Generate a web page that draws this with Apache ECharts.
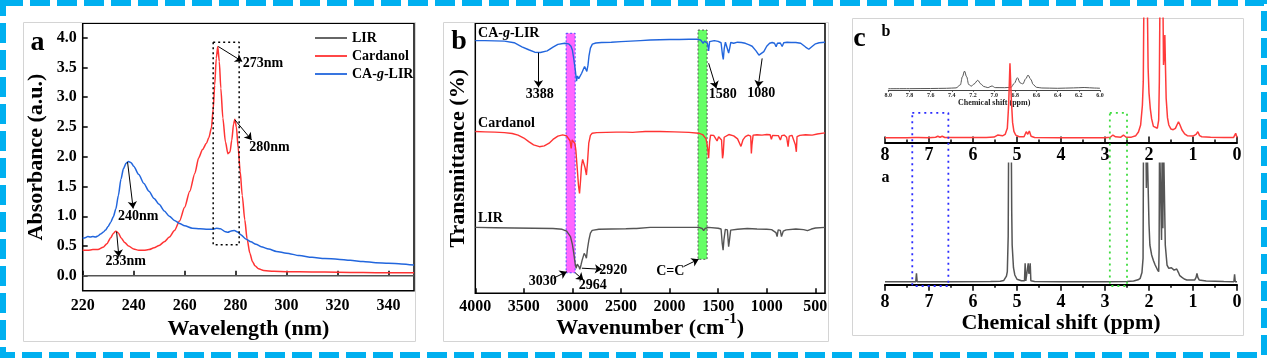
<!DOCTYPE html>
<html><head><meta charset="utf-8">
<script src="https://cdn.jsdelivr.net/npm/echarts@6/dist/echarts.min.js"></script>
<style>html,body{margin:0;padding:0;background:#fff}#c{width:1267px;height:358px}</style>
</head><body><div id="c"></div>
<script>
// ---------- Panel a : UV-vis ----------
const uvXTicks = [220,240,260,280,300,320,340];
const uvYTicks = [0,0.5,1,1.5,2,2.5,3,3.5,4];
const uvLIR = [[220,0],[260,0],[300,0],[350,0]];
const uvCardanol = [[220,0.43],[222,0.43],[224,0.44],[226,0.44],[228,0.48],[229.5,0.54],[231,0.64],[232,0.71],[233,0.75],[234,0.72],[235,0.64],[236.5,0.56],[238,0.50],[240,0.45],[242,0.43],[244,0.43],[246,0.44],[248,0.47],[250,0.51],[252,0.57],[254,0.65],[256,0.76],[258,0.92],[260,1.15],[262,1.42],[264,1.72],[265.5,1.98],[267,2.12],[268.5,2.22],[269.5,2.32],[270.5,2.48],[271.2,2.8],[271.8,3.2],[272.4,3.65],[273,3.85],[273.6,3.6],[274.2,3.15],[275,2.65],[276,2.25],[277,2.05],[277.8,2.08],[278.5,2.28],[279.2,2.55],[279.7,2.63],[280.3,2.5],[281,2.15],[281.8,1.75],[282.6,1.35],[283.6,0.94],[284.5,0.62],[285.6,0.38],[286.6,0.24],[287.6,0.17],[289,0.12],[291,0.09],[295,0.075],[300,0.07],[310,0.065],[320,0.06],[330,0.055],[340,0.05],[350,0.05]];
const uvCAgLIR = [[220,0.63],[221,0.64],[222,0.66],[223,0.65],[224,0.66],[225,0.65],[226,0.67],[227,0.70],[228,0.73],[229,0.77],[230,0.83],[231,0.90],[232,0.99],[233,1.12],[234,1.35],[235,1.62],[236,1.80],[237,1.89],[238,1.92],[239,1.90],[240,1.84],[242,1.70],[244,1.55],[246,1.42],[248,1.30],[250,1.20],[252,1.09],[254,1.00],[256,0.93],[258,0.88],[260,0.84],[263,0.80],[266,0.79],[269,0.78],[271,0.78],[272.5,0.80],[274,0.79],[276,0.74],[277,0.73],[278,0.75],[279.5,0.76],[281,0.73],[282,0.69],[284,0.62],[286,0.57],[288,0.53],[290,0.49],[293,0.45],[296,0.41],[300,0.38],[305,0.34],[310,0.31],[315,0.29],[320,0.28],[325,0.26],[330,0.24],[335,0.22],[340,0.21],[345,0.20],[350,0.18]];
const uvBox = [[271.2,3.92],[281.4,3.92],[281.4,0.52],[271.2,0.52],[271.2,3.92]];
const uvArrows = [[[273.2,3.85],[282.6,3.60]],[[279.7,2.62],[286.3,2.28]],[[237.6,1.91],[239.8,1.13]],[[233.3,0.74],[234.2,0.32]]];
const uvNotes = [['273nm',290.7,3.56],['280nm',293.3,2.15],['240nm',241.8,1.0],['233nm',236.9,0.235]];

// ---------- Panel b : FTIR ----------
const irXTicks = [500,1000,1500,2000,2500,3000,3500,4000];
const irCAgLIR = [[4000,93.6],[3900,93.6],[3800,93.5],[3700,93.4],[3600,92.8],[3520,91.3],[3450,90.2],[3388,89.3],[3330,89.2],[3260,89.8],[3200,91.2],[3150,92.2],[3080,92.6],[3040,92.4],[3030,91.8],[3015,91.5],[3000,90.0],[2985,86.5],[2970,82.5],[2958,78.6],[2948,80.5],[2935,79.5],[2920,78.8],[2905,81.5],[2890,82.8],[2875,84.0],[2865,83.5],[2852,82.2],[2840,84.5],[2830,87.8],[2815,90.8],[2795,92.3],[2760,92.7],[2700,92.9],[2600,93.0],[2500,93.2],[2400,93.4],[2300,93.6],[2200,93.8],[2100,93.9],[2000,94.0],[1900,94.0],[1800,94.1],[1720,94.1],[1680,93.8],[1655,92.6],[1640,93.4],[1625,93.6],[1610,92.5],[1598,89.8],[1588,93.2],[1570,93.8],[1540,93.6],[1500,93.3],[1470,92.8],[1455,88.2],[1447,86.6],[1438,90.5],[1425,93.0],[1410,92.6],[1392,89.0],[1380,91.0],[1370,92.9],[1340,92.6],[1300,93.0],[1260,92.9],[1220,92.6],[1180,92.0],[1150,91.5],[1110,89.8],[1080,88.2],[1060,87.9],[1030,89.5],[1000,91.5],[970,92.6],[944,92.9],[920,92.6],[903,91.3],[890,92.6],[860,92.7],[841,91.4],[825,92.8],[790,93.0],[750,92.9],[700,92.9],[650,92.6],[600,91.2],[567,90.4],[530,91.5],[498,92.4],[460,92.8],[400,93.0]];
const irCardanol = [[4000,59.9],[3900,59.8],[3800,59.7],[3700,59.5],[3620,59.2],[3560,58.6],[3500,57.5],[3450,56.2],[3400,55.0],[3340,54.3],[3290,54.6],[3240,55.6],[3200,57.0],[3150,58.2],[3100,58.7],[3060,58.3],[3040,57.8],[3025,56.5],[3013,53.7],[3003,56.8],[2990,57.2],[2975,55.5],[2965,53.0],[2952,46.9],[2938,40.0],[2927,37.0],[2917,41.5],[2907,47.0],[2895,49.6],[2884,49.3],[2870,46.5],[2856,43.8],[2845,48.5],[2832,55.6],[2815,58.5],[2797,59.3],[2750,59.5],[2650,59.6],[2550,59.7],[2450,59.7],[2380,59.6],[2365,59.0],[2350,59.7],[2250,59.9],[2100,59.9],[1950,59.8],[1800,59.6],[1701,59.3],[1660,58.8],[1640,58.2],[1625,57.2],[1612,54.9],[1598,50.0],[1588,56.0],[1578,58.6],[1560,58.4],[1546,58.5],[1530,57.6],[1511,56.4],[1495,58.0],[1480,58.4],[1465,56.8],[1455,50.0],[1448,51.5],[1438,57.8],[1420,58.5],[1390,58.8],[1374,58.9],[1340,58.3],[1300,57.2],[1289,56.8],[1265,54.4],[1258,53.7],[1245,56.8],[1220,58.0],[1190,58.6],[1165,58.2],[1158,51.8],[1152,55.0],[1140,58.6],[1100,58.7],[1048,58.6],[1000,58.8],[965,58.7],[952,57.0],[940,58.5],[920,58.6],[880,58.4],[859,56.8],[845,58.4],[820,58.6],[795,57.8],[780,54.3],[768,58.2],[740,58.5],[720,58.1],[705,55.0],[695,52.4],[688,58.0],[660,58.5],[600,58.7],[532,58.6],[480,59.0],[400,59.4]];
const irLIR = [[4000,24.4],[3800,24.3],[3600,24.2],[3400,24.1],[3200,24.0],[3106,23.7],[3060,23.0],[3040,22.4],[3020,21.0],[3000,18.0],[2986,14.8],[2972,11.0],[2962,9.3],[2950,10.8],[2941,11.3],[2932,9.8],[2924,8.9],[2912,10.5],[2900,12.3],[2879,14.8],[2866,14.0],[2856,13.0],[2845,16.5],[2831,19.7],[2815,22.3],[2797,23.3],[2728,23.7],[2600,23.8],[2450,23.9],[2370,24.0],[2355,23.4],[2340,24.0],[2200,24.4],[2000,24.4],[1800,24.4],[1700,24.4],[1665,24.0],[1649,23.2],[1635,24.0],[1600,24.4],[1500,24.1],[1470,23.8],[1458,18.5],[1449,16.0],[1440,20.0],[1426,23.7],[1405,23.5],[1392,17.3],[1384,19.5],[1371,23.4],[1300,23.7],[1200,24.0],[1100,23.8],[1000,23.7],[950,23.6],[905,22.5],[893,21.0],[882,23.5],[860,23.3],[848,21.0],[840,20.4],[830,23.0],[800,23.5],[700,23.8],[620,23.6],[580,23.2],[567,23.2],[540,23.8],[498,24.2],[400,24.4]];
const irBands = [[[3065,96.3],[2972,7.6],'rgba(255,0,255,0.6)','#4a4aff'],[[1707,97.5],[1614,12.6],'rgba(0,255,0,0.6)','#555']];
const irArrows = [[[3350,89.1],[3350,76.3]],[[1598,85.2],[1519,75.9]],[[1047,87.0],[1089,76.3]],[[3196,5.6],[3058,8.0]],[[2972,7.6],[2887,4.9]],[[2903,9.3],[2697,8.9]],[[1856,9.9],[1701,12.6]]];
const irNotes = [['3388',3336,73.7,'center'],['1580',1452,73.7,'center'],['1080',1057,74.1,'center'],['3030',3305,4.3,'center'],['2964',2792,3.1,'center'],['2920',2580,8.6,'center'],['C=C',1993,8.0,'center'],['CA-g-LIR',3972,96.3,'left'],['Cardanol',3972,63.0,'left'],['LIR',3972,27.8,'left']];

// ---------- Panel c : 1H NMR ----------
const nmrTicks = [0,1,2,3,4,5,6,7,8];
const nmrB = [[8.0,3.9],[7.5,3.9],[7.32,4.0],[7.28,5.2],[7.24,4.0],[7.0,3.9],[6.85,4.2],[6.8,5.0],[6.75,4.2],[6.7,5.0],[6.64,4.0],[6.0,4.0],[5.7,4.1],[5.52,4.4],[5.44,6.0],[5.40,6.6],[5.33,5.4],[5.27,6.5],[5.22,11.4],[5.19,30],[5.16,63.8],[5.13,35.6],[5.10,16],[5.07,9],[5.03,6.0],[4.95,4.6],[4.84,4.6],[4.79,8.7],[4.755,6.6],[4.72,9.3],[4.68,5.0],[4.6,4.0],[4.0,3.9],[3.5,3.9],[3.0,3.9],[2.88,4.2],[2.82,6.0],[2.76,4.6],[2.64,4.3],[2.58,6.0],[2.52,4.2],[2.40,4.3],[2.30,5.5],[2.24,8.5],[2.19,14.1],[2.15,30],[2.13,49],[2.115,120],[2.04,120],[2.02,60],[2.00,40],[1.97,27],[1.94,19],[1.90,13],[1.86,11.4],[1.81,11.5],[1.78,18],[1.765,49],[1.75,120],[1.685,120],[1.67,62.4],[1.655,70],[1.64,86.6],[1.625,60],[1.61,35.6],[1.58,20],[1.55,14.1],[1.50,10.8],[1.45,10.3],[1.40,11.4],[1.36,14.5],[1.33,16.7],[1.30,14.5],[1.25,10.1],[1.19,7],[1.13,5.5],[1.0,5.2],[0.93,6.5],[0.89,8.7],[0.85,5.5],[0.80,4.6],[0.6,4.2],[0.3,4.0],[0.08,4.0],[0.03,7.4],[0.0,4.0]];
const nmrA = [[8.0,2.5],[7.6,2.5],[7.3,2.5],[7.285,9.4],[7.27,2.5],[6.5,2.5],[5.6,2.6],[5.38,2.9],[5.30,3.5],[5.24,7],[5.22,10.7],[5.20,40],[5.19,120],[5.13,120],[5.12,60],[5.11,32.7],[5.08,14],[5.05,8],[5.0,4.5],[4.9,3.2],[4.83,3.2],[4.815,17.6],[4.80,3.2],[4.755,3.2],[4.745,17.6],[4.73,9],[4.715,10.7],[4.70,17.6],[4.685,3.2],[4.6,2.6],[4.0,2.5],[3.0,2.5],[2.5,2.7],[2.35,3.0],[2.25,4.0],[2.20,5.3],[2.16,10],[2.135,21.7],[2.125,120],[2.07,120],[2.06,79.7],[2.045,120],[2.02,120],[2.0,50],[1.98,32.7],[1.94,24.5],[1.90,20],[1.86,16.2],[1.81,12.5],[1.78,10.7],[1.77,30],[1.76,120],[1.73,120],[1.715,36.8],[1.70,120],[1.685,46.5],[1.67,120],[1.645,120],[1.63,32.7],[1.59,16.2],[1.55,13.5],[1.52,12.9],[1.49,14],[1.46,15.6],[1.43,12],[1.40,11.3],[1.37,12.9],[1.33,10],[1.30,7.4],[1.25,6],[1.20,4.7],[1.14,3.9],[0.96,3.9],[0.93,6],[0.91,9.4],[0.89,6],[0.86,3.9],[0.7,3.0],[0.3,2.6],[0.07,2.5],[0.055,8.6],[0.04,2.5],[0.0,2.5]];
const nmrInset = [[8.0,4.3],[7.8,4.5],[7.6,5],[7.45,5.7],[7.36,7],[7.32,16.7],[7.30,44],[7.28,63],[7.26,44],[7.24,18],[7.215,13],[7.19,20],[7.155,32.3],[7.125,20],[7.10,12],[7.06,8],[7.02,13.3],[6.99,8],[6.9,7.7],[6.84,9],[6.81,22],[6.78,41],[6.755,24],[6.73,20],[6.70,38],[6.68,50],[6.655,36],[6.63,18],[6.60,9],[6.55,6.7],[6.4,5.7],[6.25,7],[6.15,8.3],[6.05,6.5],[6.0,5.7]];
const nmrBlueBox = [[7.38,65],[6.56,65],[6.56,0.85],[7.38,0.85],[7.38,65]];
const nmrGreenBox = [[2.89,65],[2.50,65],[2.50,0.85],[2.89,0.85],[2.89,65]];

// ---------- styles ----------
const F = '"Liberation Serif", "Times New Roman", serif';
const bold = (s) => ({fontFamily:F, fontWeight:'bold', fontSize:s, color:'#000'});
const italicG = (s) => ({i:{fontFamily:F, fontWeight:'bold', fontStyle:'italic', fontSize:s, color:'#000'}});
const fmtName = (n) => n.replace('-g-', '-{i|g}-');
const arrowLine = (arr) => ({
  symbol:['none','arrow'], symbolSize:7, silent:true, animation:false,
  label:{show:false}, emphasis:{disabled:true},
  lineStyle:{color:'#000', width:1, type:'solid'},
  data: arr.map(a => [{coord:a[0]},{coord:a[1]}])
});
const notePoints = (arr, size) => ({
  symbol:'rect', symbolSize:1, silent:true, animation:false,
  itemStyle:{color:'rgba(0,0,0,0)'},
  label:{show:true, position:'inside', formatter:(p)=>fmtName(p.name), ...bold(size), rich:italicG(size)},
  data: arr.map(a => ({name:a[0], coord:[a[1],a[2]], label:{align:a[3]||'center', verticalAlign:'middle'}}))
});
const hiddenAxis = (g, min, max, inv) => ({gridIndex:g, type:'value', min, max, inverse:!!inv, show:false});
const nmrAxis = (g, inside, margin, name) => ({
  gridIndex:g, type:'value', min:0, max:8, inverse:true, interval:1,
  axisLine:{show:true, lineStyle:{color:'#000', width:2}},
  axisTick:{show:true, inside, length:6, lineStyle:{color:'#000', width:1.5}},
  minorTick:{show:true, splitNumber:2, length:3, lineStyle:{color:'#000', width:1.5}},
  axisLabel:{margin, ...bold(18)}, splitLine:{show:false},
  name: name || '', nameLocation:'middle', nameGap:27, nameTextStyle:bold(22)
});

const option = {
  animation:false,
  textStyle:{fontFamily:F},
  grid:[
    {left:82.7, top:23.3, width:331.3, height:267.4, show:true, borderColor:'#000', borderWidth:1.5},
    {left:475.3, top:23.3, width:349.7, height:270, show:true, borderColor:'#000', borderWidth:1.5},
    {left:885, top:18.3, width:352, height:124.2},
    {left:885, top:163.3, width:352, height:121.4},
    {left:888.3, top:60, width:211.7, height:30},
    {left:885, top:18.3, width:352, height:270}
  ],
  legend:{
    data:['LIR','Cardanol','CA-g-LIR'].map(n => ({name:n, icon:'rect'})),
    orient:'vertical', left:310, top:26,
    itemWidth:32, itemHeight:1.8, itemGap:4, selectedMode:false,
    formatter:fmtName, textStyle:{...bold(14), rich:italicG(14)}
  },
  xAxis:[
    {gridIndex:0, type:'value', min:220, max:350,
     axisLine:{show:false},
     axisTick:{inside:true, length:5, customValues:uvXTicks, lineStyle:{color:'#000', width:1.5}},
     axisLabel:{customValues:uvXTicks, margin:7, ...bold(16)}, splitLine:{show:false},
     name:'Wavelength (nm)', nameLocation:'middle', nameGap:25, nameTextStyle:bold(22)},
    {gridIndex:1, type:'value', min:400, max:4000, inverse:true,
     axisLine:{show:false},
     axisTick:{inside:true, length:5, customValues:irXTicks, lineStyle:{color:'#000', width:1.5}},
     axisLabel:{customValues:irXTicks, margin:6, formatter:(v)=>String(v), ...bold(16)}, splitLine:{show:false},
     name:'{m|Wavenumber (cm}{sup|-1}{m|)}', nameLocation:'middle', nameGap:18, nameMoveOverlap:false,
     nameTextStyle:{...bold(22), rich:{
       m:{...bold(22), lineHeight:28, verticalAlign:'bottom'},
       sup:{...bold(15), lineHeight:15, verticalAlign:'top'}}}},
    nmrAxis(2, true, 4),
    nmrAxis(3, false, 9, 'Chemical shift (ppm)'),
    {gridIndex:4, type:'value', min:6, max:8, inverse:true, interval:0.2,
     axisLine:{show:true, lineStyle:{color:'#444', width:1}},
     axisTick:{show:true, length:2, lineStyle:{color:'#444', width:0.8}},
     axisLabel:{margin:2, formatter:(v)=>v.toFixed(1), ...bold(6), color:'#222'}, splitLine:{show:false},
     name:'Chemical shift (ppm)', nameLocation:'middle', nameGap:9, nameTextStyle:{...bold(8), color:'#222'}},
    hiddenAxis(5, 0, 8, true)
  ],
  yAxis:[
    {gridIndex:0, type:'value', min:-0.25, max:4.24,
     axisLine:{show:false},
     axisTick:{inside:true, length:5, customValues:uvYTicks, lineStyle:{color:'#000', width:1.5}},
     axisLabel:{customValues:uvYTicks, margin:6, formatter:(v)=>v.toFixed(1), ...bold(16)}, splitLine:{show:false},
     name:'Absorbance (a.u.)', nameLocation:'middle', nameGap:35, nameTextStyle:bold(22)},
    {gridIndex:1, type:'value', min:0, max:100,
     axisLine:{show:false}, axisTick:{show:false}, axisLabel:{show:false}, splitLine:{show:false},
     name:'Transmittance (%)', nameLocation:'middle', nameGap:6, nameTextStyle:bold(22)},
    hiddenAxis(2, 0, 100), hiddenAxis(3, 0, 100), hiddenAxis(4, 0, 100), hiddenAxis(5, 0, 100)
  ],
  series:[
    {type:'line', name:'LIR', xAxisIndex:0, yAxisIndex:0, data:uvLIR, symbol:'none', lineStyle:{color:'#555', width:1.5}, itemStyle:{color:'#555'}},
    {type:'line', name:'Cardanol', xAxisIndex:0, yAxisIndex:0, data:uvCardanol, symbol:'none', smooth:0.25, smoothMonotone:'x', lineStyle:{color:'#ff3333', width:1.5}, itemStyle:{color:'#ff3333'}},
    {type:'line', name:'CA-g-LIR', xAxisIndex:0, yAxisIndex:0, data:uvCAgLIR, symbol:'none', smooth:0.25, smoothMonotone:'x', lineStyle:{color:'#2266dd', width:1.5}, itemStyle:{color:'#2266dd'}},
    {type:'line', name:'uvBox', xAxisIndex:0, yAxisIndex:0, data:uvBox, symbol:'none', z:4,
     lineStyle:{color:'#000', width:1.5, type:[2,3]},
     markLine:arrowLine(uvArrows), markPoint:notePoints(uvNotes, 14)},

    {type:'line', name:'irLIR', xAxisIndex:1, yAxisIndex:1, data:irLIR, symbol:'none', lineStyle:{color:'#555', width:1.4}},
    {type:'line', name:'irCardanol', xAxisIndex:1, yAxisIndex:1, data:irCardanol, symbol:'none', lineStyle:{color:'#ff3333', width:1.4}},
    {type:'line', name:'irCAgLIR', xAxisIndex:1, yAxisIndex:1, data:irCAgLIR, symbol:'none', lineStyle:{color:'#2266dd', width:1.4}},
    {type:'line', name:'irBands', xAxisIndex:1, yAxisIndex:1, data:[[2000,50]], symbol:'none', z:5, lineStyle:{width:0},
     markArea:{silent:true, animation:false, data: irBands.map(b => [{coord:b[0], itemStyle:{color:b[2], borderColor:b[3], borderWidth:1, borderType:[2,2]}},{coord:b[1]}])},
     markLine:arrowLine(irArrows), markPoint:notePoints(irNotes, 14)},

    {type:'line', name:'nmrInset', xAxisIndex:4, yAxisIndex:4, data:nmrInset, symbol:'none', smooth:0.35, smoothMonotone:'x', z:2, lineStyle:{color:'#555', width:1}},
    {type:'line', name:'nmrB', xAxisIndex:2, yAxisIndex:2, data:nmrB, symbol:'none', z:3, lineStyle:{color:'#ff3b3b', width:1.5}},
    {type:'line', name:'nmrA', xAxisIndex:3, yAxisIndex:3, data:nmrA, symbol:'none', z:3, lineStyle:{color:'#555', width:1.5}},
    {type:'line', name:'nmrBlueBox', xAxisIndex:5, yAxisIndex:5, data:nmrBlueBox, symbol:'none', z:4, lineStyle:{color:'#2b2bff', width:1.8, type:[2,4]}},
    {type:'line', name:'nmrGreenBox', xAxisIndex:5, yAxisIndex:5, data:nmrGreenBox, symbol:'none', z:4, lineStyle:{color:'#3ddc3d', width:1.8, type:[2,4]}}
  ],
  graphic:[
    {type:'rect', shape:{x:3, y:3, width:1261, height:352}, style:{fill:'none', stroke:'#00b0f0', lineWidth:6, lineDash:[20,7]}, silent:true},
    {type:'rect', shape:{x:23.5, y:22.5, width:392, height:319}, style:{fill:'none', stroke:'#d4d4d4', lineWidth:1}, silent:true},
    {type:'rect', shape:{x:443.5, y:22.5, width:385, height:319}, style:{fill:'none', stroke:'#d4d4d4', lineWidth:1}, silent:true},
    {type:'rect', shape:{x:852.5, y:18.5, width:391, height:317}, style:{fill:'none', stroke:'#d4d4d4', lineWidth:1}, silent:true},
    {type:'text', x:37.5, y:43, style:{text:'a', font:'bold 28px '+F, fill:'#000', textAlign:'center', textVerticalAlign:'middle', align:'center', verticalAlign:'middle'}},
    {type:'text', x:459, y:41.7, style:{text:'b', font:'bold 28px '+F, fill:'#000', textAlign:'center', textVerticalAlign:'middle', align:'center', verticalAlign:'middle'}},
    {type:'text', x:859.5, y:38.3, style:{text:'c', font:'bold 28px '+F, fill:'#000', textAlign:'center', textVerticalAlign:'middle', align:'center', verticalAlign:'middle'}},
    {type:'text', x:886, y:32.3, style:{text:'b', font:'bold 16px '+F, fill:'#000', textAlign:'center', textVerticalAlign:'middle', align:'center', verticalAlign:'middle'}},
    {type:'text', x:885.5, y:177.7, style:{text:'a', font:'bold 16px '+F, fill:'#000', textAlign:'center', textVerticalAlign:'middle', align:'center', verticalAlign:'middle'}}
  ]
};
const chart = echarts.init(document.getElementById('c'), null, {renderer:'canvas'});
chart.setOption(option);
</script></body></html>
